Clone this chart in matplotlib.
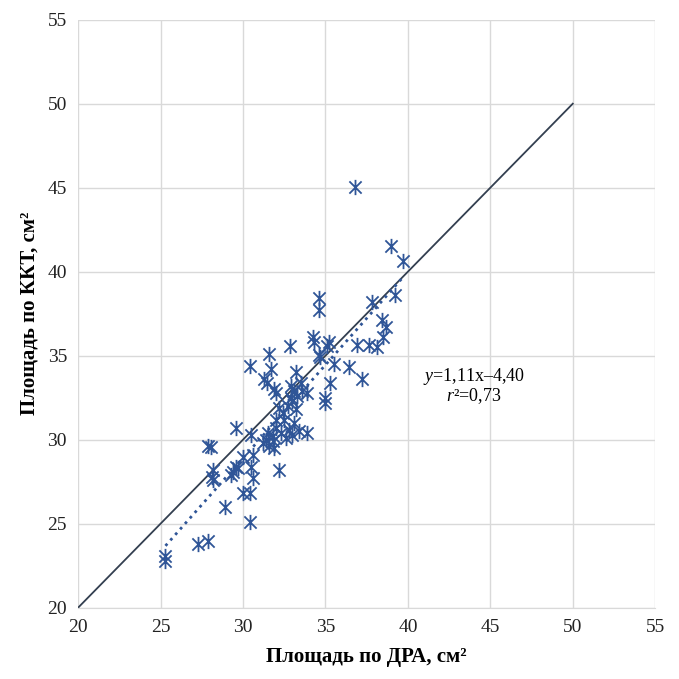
import matplotlib.pyplot as plt
import numpy as np
from matplotlib.path import Path

plt.rcParams['font.family'] = ['Liberation Serif', 'DejaVu Serif']
plt.rcParams['mathtext.fontset'] = 'custom'
plt.rcParams['mathtext.rm'] = 'Liberation Serif'
plt.rcParams['mathtext.it'] = 'Liberation Serif:italic'

# площадь по ДРА (x) и по ККТ (y), см2
dra = [25.3, 25.3, 27.3, 27.9, 28.9, 30.4, 30.0, 30.4, 29.6, 27.85, 28.05,
       28.2, 28.2, 28.1, 29.25, 29.4, 29.7, 29.55, 30.6, 30.5, 30.0, 30.6,
       30.5, 32.2, 32.2,
       31.2, 31.4, 31.6, 31.8, 31.9, 32.0, 32.3, 32.5, 32.6, 32.8, 33.0,
       33.1, 32.4, 32.7, 33.2, 33.4, 33.9, 31.5, 32.0, 31.8, 33.0, 33.3,
       32.9, 33.1, 33.5, 33.9, 35.0, 32.9, 33.6, 35.0,
       30.4, 31.6, 31.7, 32.85, 31.3, 31.45, 31.9, 32.0, 33.2, 34.25, 34.3,
       35.2, 35.1, 34.6, 34.7, 35.5, 36.4, 35.3, 37.2, 36.9, 37.65, 38.1,
       34.6, 34.6, 38.4, 38.7, 38.5, 37.8, 39.2, 39.0, 39.7, 36.8]
kkt = [23.1, 22.8, 23.8, 24.0, 26.0, 25.1, 26.8, 26.8, 30.7, 29.6, 29.55,
       28.2, 27.6, 27.8, 27.9, 28.1, 28.3, 28.4, 27.7, 28.4, 29.0, 29.1,
       30.3, 28.2, 31.9,
       29.8, 30.0, 29.6, 30.2, 29.5, 30.7, 30.4, 31.2, 30.1, 30.6, 30.3,
       31.0, 31.6, 32.0, 31.8, 30.5, 30.4, 30.4, 31.2, 29.9, 32.3, 32.6,
       33.2, 32.9, 33.4, 32.8, 32.5, 32.5, 32.9, 32.2,
       34.4, 35.1, 34.2, 35.55, 33.6, 33.4, 33.0, 32.8, 34.05, 36.1, 35.8,
       35.8, 35.6, 35.05, 34.9, 34.5, 34.3, 33.4, 33.6, 35.65, 35.65, 35.5,
       38.45, 37.7, 37.1, 36.7, 36.1, 38.2, 38.6, 41.5, 40.65, 45.05]

ticks = [20, 25, 30, 35, 40, 45, 50, 55]
slope, icpt = 1.11, -4.40

# маркер как в Excel: крест + вертикальная черта
star = Path([(-1, -1), (1, 1), (-1, 1), (1, -1), (0, -1.25), (0, 1.25)],
            [Path.MOVETO, Path.LINETO, Path.MOVETO, Path.LINETO,
             Path.MOVETO, Path.LINETO])

fig = plt.figure(figsize=(6.79, 6.79), dpi=100)
ax = fig.add_axes([0.115, 0.105, 0.85, 0.866])

ax.plot([20, 50], [20, 50], color='#333f50', lw=1.3, zorder=2)
xs = np.array([min(dra), max(dra)])
ax.plot(xs, slope * xs + icpt, ':', color='#2f5597', lw=2, zorder=2)
ax.plot(dra, kkt, ls='none', marker=star, ms=11, mew=1.3,
        mec='#2f5597', mfc='none', zorder=3)

ax.set_xlim(20, 55)
ax.set_ylim(20, 55)
ax.set_xticks(ticks)
ax.set_yticks(ticks)
ax.tick_params(length=0, labelsize=14, pad=8, colors='#222222')
ax.grid(True, color='#d9d9d9', lw=1)
ax.set_axisbelow(True)
for s in ax.spines.values():
    s.set_visible(False)
ax.spines['bottom'].set_visible(True)
ax.spines['bottom'].set_color('#d9d9d9')

ax.set_xlabel('Площадь по ДРА, см²', fontsize=15, fontweight='bold', labelpad=8)
ax.set_ylabel('Площадь по ККТ, см²', fontsize=15, fontweight='bold', labelpad=6)

ax.text(44.0, 33.75, r'$\it{y}$=1,11x–4,40', fontsize=13, ha='center', va='center')
ax.text(44.0, 32.6, r'$\it{r}$²=0,73', fontsize=13, ha='center', va='center')

fig.savefig('out.png', dpi=100)
